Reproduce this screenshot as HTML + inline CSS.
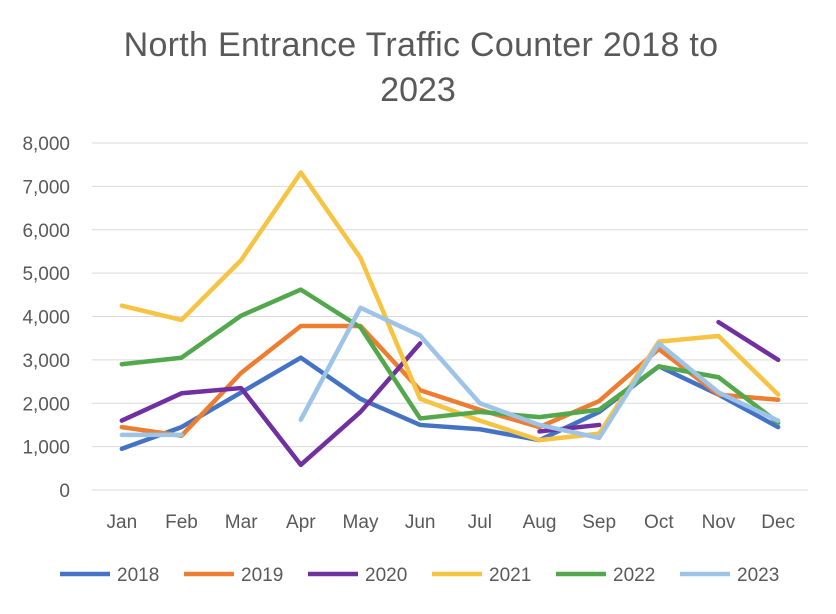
<!DOCTYPE html>
<html><head><meta charset="utf-8"><style>
html,body{margin:0;padding:0;background:#fff;}
svg{display:block;font-family:"Liberation Sans",Arial,sans-serif;}
</style></head><body>
<svg id="chart" width="836" height="614">
<text x="421" y="56" text-anchor="middle" font-size="34" letter-spacing="0.3" fill="#595959">North Entrance Traffic Counter 2018 to</text>
<text x="418" y="101" text-anchor="middle" font-size="34" fill="#595959">2023</text>
<g id="grid"></g><g id="ylabels"></g><g id="xlabels"></g><g id="series"></g><g id="legend"></g>
</svg>
<script>
const months=["Jan","Feb","Mar","Apr","May","Jun","Jul","Aug","Sep","Oct","Nov","Dec"];
const yTicks=[0,1000,2000,3000,4000,5000,6000,7000,8000];
const seriesNames=["2018","2019","2020","2021","2022","2023"];
const seriesColors=["#4472C4","#ED7D31","#7030A0","#F6C343","#53A84D","#9DC3E6"];
const s2018=[950,1450,2250,3050,2100,1500,1400,1150,1800,2850,2200,1450];
const s2019=[1450,1250,2700,3780,3780,2300,1850,1450,2050,3250,2200,2080];
const s2020=[1600,2230,2350,580,1800,3380,null,1350,1500,null,3870,3000];
const s2021=[4250,3920,5300,7320,5350,2100,1600,1150,1300,3420,3550,2200];
const s2022=[2900,3050,4020,4620,3750,1650,1800,1680,1850,2850,2600,1550];
const s2023=[1270,1270,null,1620,4200,3560,2000,1500,1200,3380,2250,1600];
const allSeries=[s2018,s2019,s2020,s2021,s2022,s2023];
const NS="http://www.w3.org/2000/svg";
const x0=92,x1=808,y0=490,y1=143;
const xs=i=>x0+(i+0.5)*(x1-x0)/months.length;
const ys=v=>y0-(v/8000)*(y0-y1);
function mk(tag,attrs,parent){const e=document.createElementNS(NS,tag);for(const k in attrs)e.setAttribute(k,attrs[k]);parent.appendChild(e);return e;}
const grid=document.getElementById('grid'),yl=document.getElementById('ylabels'),xl=document.getElementById('xlabels'),sg=document.getElementById('series'),lg=document.getElementById('legend');
yTicks.forEach(t=>{
 const l=mk('line',{x1:x0,x2:x1,y1:ys(t),y2:ys(t),stroke:'#d9d9d9','stroke-width':1},grid);
 
 
 const tx=mk('text',{x:70,y:ys(t)+7,'text-anchor':'end','font-size':19,fill:'#595959'},yl);
 tx.textContent=t.toLocaleString('en-US');
 
 
});
months.forEach((m,i)=>{
 const tx=mk('text',{x:xs(i),y:528,'text-anchor':'middle','font-size':19,fill:'#595959'},xl);
 tx.textContent=m;
 
 
});
allSeries.forEach((d,si)=>{
 let segs=[],cur=[];
 d.forEach((v,i)=>{if(v===null){if(cur.length)segs.push(cur);cur=[];}else cur.push(xs(i)+','+ys(v));});
 if(cur.length)segs.push(cur);
 segs.forEach(s=>{
  if(s.length<2)return;
  const p=mk('polyline',{points:s.join(' '),fill:'none',stroke:seriesColors[si],'stroke-width':4.5,'stroke-linejoin':'round','stroke-linecap':'round'},sg);
  
  
 });
 const lx=60+124*si;
 const ll=mk('line',{x1:lx,x2:lx+50,y1:574,y2:574,stroke:seriesColors[si],'stroke-width':4.5},lg);
 
 
 const lt=mk('text',{x:lx+57,y:581,'font-size':19,fill:'#595959'},lg);
 lt.textContent=seriesNames[si];
 
 
});
</script>
</body></html>
